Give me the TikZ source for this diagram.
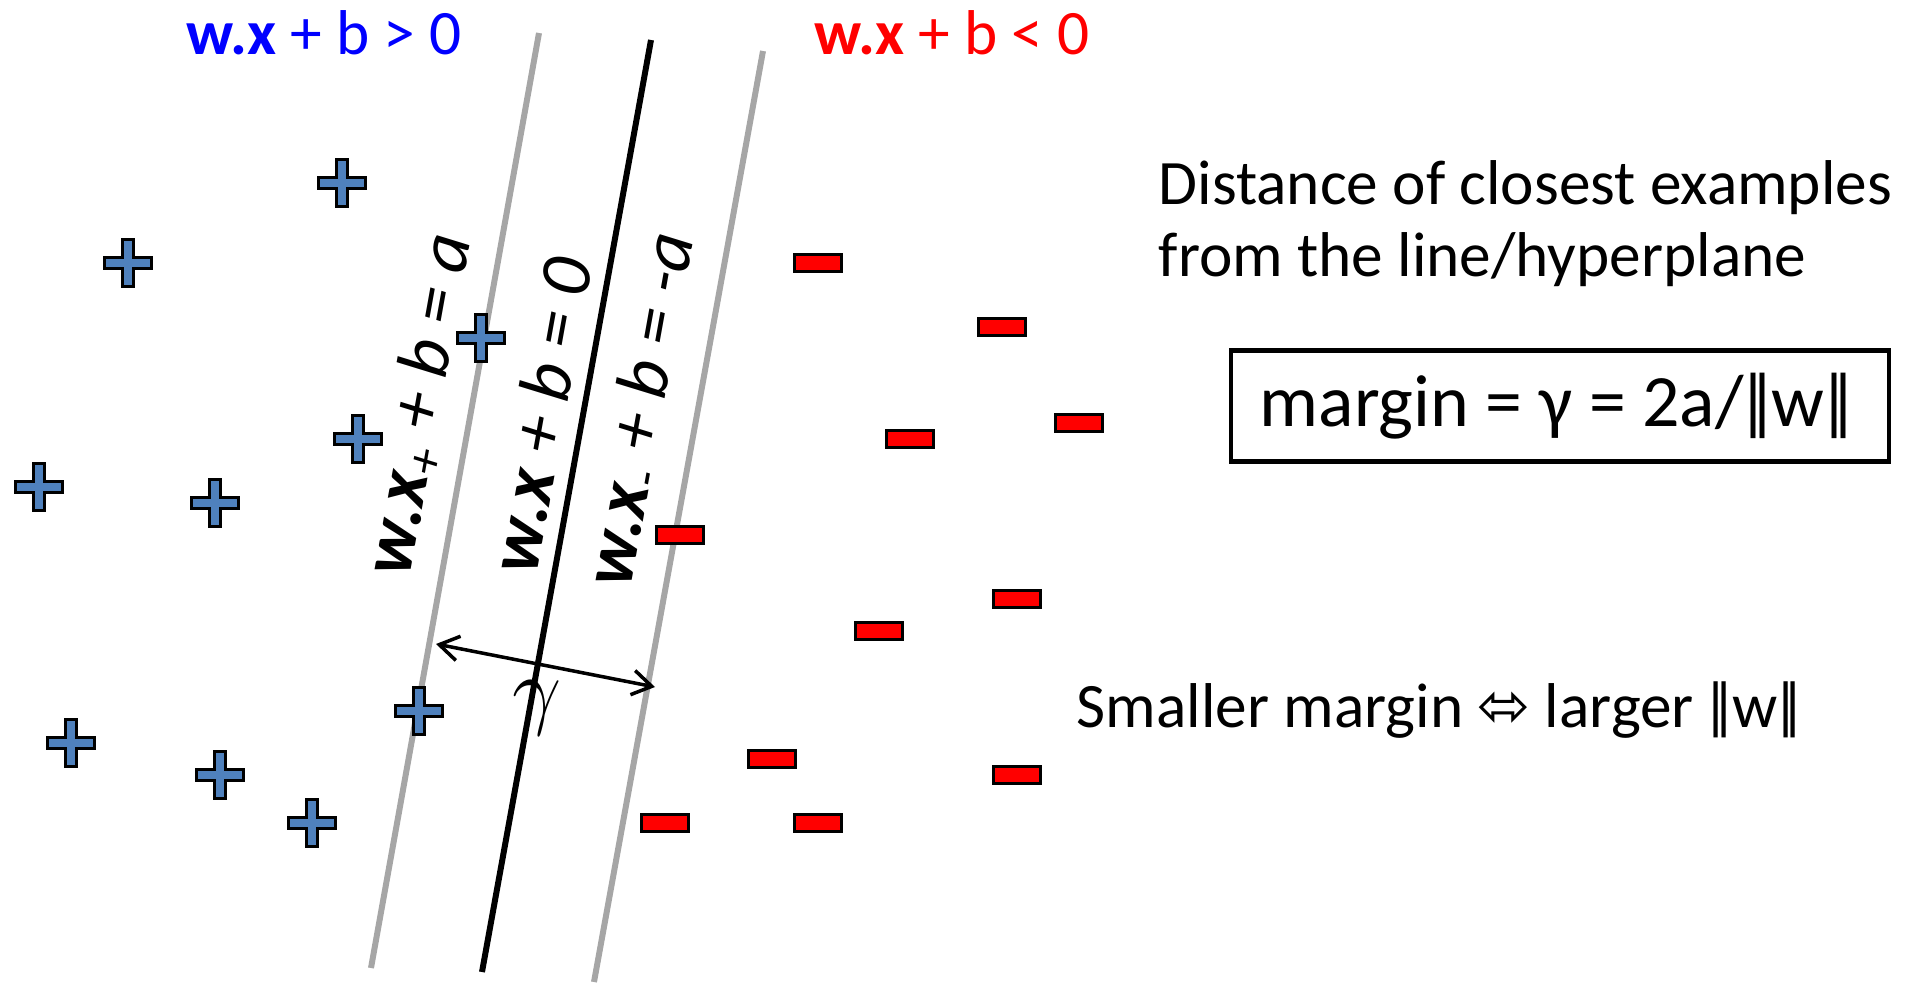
\documentclass[tikz,border=0pt]{standalone}
\usepackage{fontspec}
\setmainfont{Carlito}
\newfontfamily\symfont{DejaVu Sans}
\usetikzlibrary{arrows.meta}
\definecolor{sv-blue}{HTML}{4F81BD}
\definecolor{sv-red}{HTML}{FF0000}
\definecolor{sv-gray}{HTML}{A6A6A6}
\definecolor{sv-pos}{HTML}{0000FF}
\newcommand{\nrm}[1]{\kern-.1em|\kern-.34em|\kern-.1em#1\kern-.1em|\kern-.34em|}

\begin{document}
\begin{tikzpicture}[x=0.01cm, y=-0.01cm, >={Straight Barb[length=5.5pt,width=7pt]},
    plusmark/.style={fill=sv-blue, draw=black, line width=0.7pt},
    minusmark/.style={fill=sv-red, draw=black, line width=0.7pt},
    bigtxt/.style={font=\fontsize{18}{21.5}\selectfont, inner sep=0pt},
    linelabel/.style={font=\fontsize{20.8}{25}\selectfont\itshape, inner sep=0pt, rotate=79.8}]
        \useasboundingbox (0,0) rectangle (1905,985);
        % the three lines
        \draw[sv-gray, line width=1.7pt] (539,33) -- (371,968);
        \draw[black, line width=1.7pt] (651,40) -- (482,972);
        \draw[sv-gray, line width=1.7pt] (763,51) -- (594,982);
        % positive examples
        \foreach \px/\py in {342/183, 128/263, 481/338, 358/439, 39/487, 215/503, 419/711, 71/743, 220/775, 312/823}
            \filldraw[plusmark] (\px,\py) ++(-5.3,-23.5) -- ++(10.6,0) -- ++(0,18.2) -- ++(18.2,0) -- ++(0,10.6) -- ++(-18.2,0) -- ++(0,18.2) -- ++(-10.6,0) -- ++(0,-18.2) -- ++(-18.2,0) -- ++(0,-10.6) -- ++(18.2,0) -- cycle;
        % negative examples
        \foreach \mx/\my in {818/263, 1002/327, 1079/423, 910/439, 680/535, 1017/599, 879/631, 772/759, 1017/775, 665/823, 818/823}
            \filldraw[minusmark] (\mx,\my) ++(-23.5,-8.5) rectangle ++(47,17);
        % labels on the lines
        \node[linelabel] (lplus) at (421,405) {{\bfseries w.x}\textsubscript{+} + b = a};
        \node[linelabel] (lzero) at (540,415) {{\bfseries w.x} + b = 0};
        \node[linelabel] (lminus) at (643,410) {{\bfseries w.x}\textsubscript{-} + b = -a};
        % margin arrow
        \coordinate (mL) at (436,644);
        \coordinate (mR) at (655,687);
        \draw[<->, line width=1pt] (mL) -- (mR);
        \node[font=\fontsize{26}{30}\selectfont, inner sep=0pt] (gam) at (537,708) {$\gamma$};
        % side texts
        \node[bigtxt, sv-pos, anchor=base west] (posside) at (186,55) {\textbf{w.x} + b > 0};
        \node[bigtxt, sv-red, anchor=base west] (negside) at (814,55) {\textbf{w.x} + b < 0};
        \node[bigtxt, anchor=base west] (dist1) at (1158,205) {Distance of closest examples};
        \node[bigtxt, anchor=base west] (dist2) at (1158,277) {from the line/hyperplane};
        \node[draw, line width=1.2pt, minimum width=6.58cm, minimum height=1.11cm, font=\fontsize{21}{25}\selectfont] (mbox) at (1560,406) {margin = γ = 2a/\nrm{w}};
        \node[bigtxt, anchor=base west] (small) at (1076,727) {Smaller margin {\symfont ⬄} larger \nrm{w}};
    \end{tikzpicture}
\end{document}
